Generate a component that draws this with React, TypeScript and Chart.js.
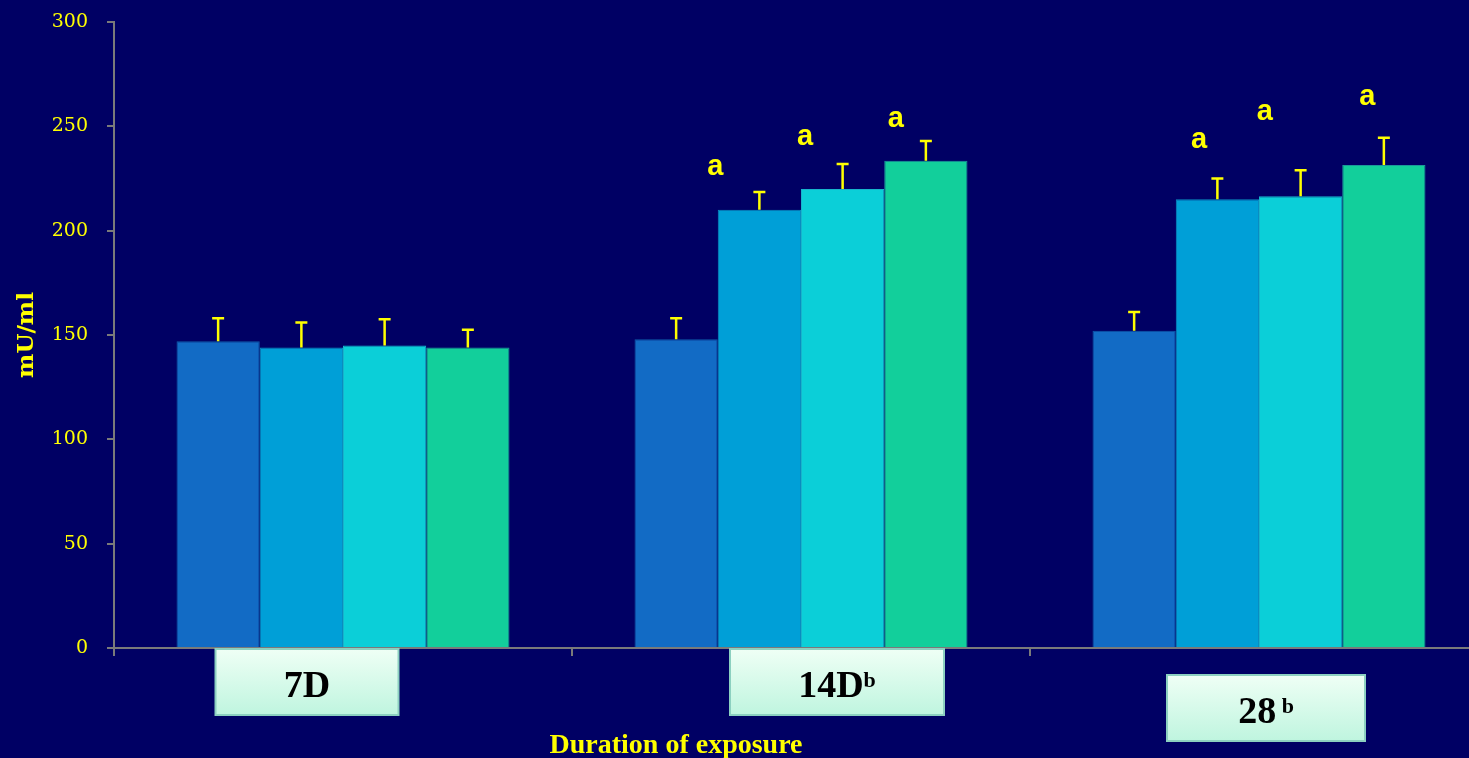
import React, { useEffect, useRef } from "react";
import { Chart, registerables } from "chart.js";

Chart.register(...registerables);

// ---- data ----
const categories = ["7D", "14D", "28"];
const categorySuperscripts = ["", "b", " b"];
const seriesNames = ["Group 1", "Group 2", "Group 3", "Group 4"];
const series1 = [147, 148, 152];
const series2 = [144, 210, 215];
const series3 = [145, 220, 216.5];
const series4 = [144, 233.5, 231.5];
const error1 = [11, 10, 9];
const error2 = [12, 8.5, 10];
const error3 = [12.5, 12, 12.5];
const error4 = [8.5, 9.5, 13];
const sigLabels1 = ["", "", ""];
const sigLabels2 = ["", "a", "a"];
const sigLabels3 = ["", "a", "a"];
const sigLabels4 = ["", "a", "a"];
const sigValues1 = [0, 0, 0];
const sigValues2 = [0, 226.7, 239.6];
const sigValues3 = [0, 241, 253];
const sigValues4 = [0, 249.7, 260.2];
const yTicks = [0, 50, 100, 150, 200, 250, 300];
const xTitle = "Duration of exposure";
const yTitle = "mU/ml";

// ---- styles / layout ----
const BG = "#000064";
const YELLOW = "#ffff00";
const AXIS = "#7a7a7a";
const barColors = ["#126bc5", "#009fd7", "#0bcfd8", "#12cf9b"];
const barBorders = ["#0e5aa8", "#0a8cc0", "#17b4cc", "#1a9b99"];
const sigOffsets = [
  [0, 0, 0],
  [0, -0.53, -0.22],
  [0, -0.45, -0.43],
  [0, -0.36, -0.2],
];
const labelBoxes = [
  { dx: -36, w: 183, top: 1, h: 66 },
  { dx: 36, w: 214, top: 1, h: 66 },
  { dx: 7, w: 198, top: 27, h: 66 },
];

const allSeries = [series1, series2, series3, series4];
const allErrors = [error1, error2, error3, error4];
const allSigLabels = [sigLabels1, sigLabels2, sigLabels3, sigLabels4];
const allSigValues = [sigValues1, sigValues2, sigValues3, sigValues4];

const overlayPlugin = {
  id: "overlay",
  beforeDraw(chart: any) {
    const ctx = chart.ctx;
    ctx.save();
    ctx.fillStyle = BG;
    ctx.fillRect(0, 0, chart.width, chart.height);
    ctx.restore();
  },
  afterDatasetsDraw(chart: any) {
    const ctx = chart.ctx;
    const yScale = chart.scales.y;
    ctx.save();
    // error bars
    allErrors.forEach((errs, di) => {
      const meta = chart.getDatasetMeta(di);
      meta.data.forEach((bar: any, j: number) => {
        const v = allSeries[di][j];
        const top = yScale.getPixelForValue(v + errs[j]);
        ctx.strokeStyle = YELLOW;
        ctx.lineWidth = 2.5;
        ctx.beginPath();
        ctx.moveTo(bar.x, bar.y);
        ctx.lineTo(bar.x, top);
        ctx.moveTo(bar.x - 6, top);
        ctx.lineTo(bar.x + 6, top);
        ctx.stroke();
      });
    });
    // significance letters
    ctx.fillStyle = YELLOW;
    ctx.font = "bold 29px 'Liberation Sans', Arial, sans-serif";
    ctx.textAlign = "center";
    ctx.textBaseline = "alphabetic";
    allSigLabels.forEach((labels, di) => {
      const meta = chart.getDatasetMeta(di);
      labels.forEach((lab, j) => {
        if (!lab) return;
        const bar: any = meta.data[j];
        const w = bar.width;
        ctx.fillText(lab, bar.x + sigOffsets[di][j] * w, yScale.getPixelForValue(allSigValues[di][j]));
      });
    });
    ctx.restore();
  },
  afterDraw(chart: any) {
    const ctx = chart.ctx;
    const xScale = chart.scales.x;
    const area = chart.chartArea;
    ctx.save();
    categories.forEach((cat, i) => {
      const b = labelBoxes[i];
      const cx = xScale.getPixelForValue(i) + b.dx;
      const left = cx - b.w / 2;
      const top = area.bottom + b.top;
      const g = ctx.createLinearGradient(0, top, 0, top + b.h);
      g.addColorStop(0, "#efffF5");
      g.addColorStop(1, "#bff5df");
      ctx.fillStyle = g;
      ctx.fillRect(left, top, b.w, b.h);
      ctx.strokeStyle = "#8cd0c0";
      ctx.lineWidth = 2;
      ctx.strokeRect(left, top, b.w, b.h);
      // text
      const mainFont = "bold 38px 'Liberation Serif', 'Times New Roman', serif";
      const supFont = "bold 22px 'Liberation Serif', 'Times New Roman', serif";
      ctx.font = mainFont;
      const mw = ctx.measureText(cat).width;
      ctx.font = supFont;
      const sw = ctx.measureText(categorySuperscripts[i]).width;
      const start = cx - (mw + sw) / 2;
      const base = top + 48;
      ctx.fillStyle = "#000000";
      ctx.textAlign = "left";
      ctx.textBaseline = "alphabetic";
      ctx.font = mainFont;
      ctx.fillText(cat, start, base);
      ctx.font = supFont;
      ctx.fillText(categorySuperscripts[i], start + mw, base - 10);
    });
    // x axis title
    ctx.fillStyle = YELLOW;
    ctx.font = "bold 28px 'Liberation Serif', 'Times New Roman', serif";
    ctx.textAlign = "center";
    ctx.textBaseline = "alphabetic";
    ctx.fillText(xTitle, area.left + 562, area.bottom + 105);
    ctx.restore();
  },
};

export default function App() {
  const ref = useRef<HTMLCanvasElement>(null);
  useEffect(() => {
    const chart = new Chart(ref.current!, {
      type: "bar",
      data: {
        labels: categories,
        datasets: allSeries.map((s, i) => ({
          label: seriesNames[i],
          data: s,
          backgroundColor: barColors[i],
          borderColor: barBorders[i],
          borderWidth: 1,
          categoryPercentage: 0.727,
          barPercentage: 1.0,
        })),
      },
      options: {
        responsive: false,
        animation: false,
        devicePixelRatio: 1,
        layout: { padding: { top: 22, right: 12, left: 0, bottom: 0 } },
        plugins: {
          legend: { display: false },
          tooltip: { enabled: false },
          title: { display: false },
        },
        scales: {
          x: {
            afterFit: (s: any) => {
              s.height = 110;
            },
            ticks: { display: false },
            grid: {
              offset: true,
              drawOnChartArea: false,
              color: AXIS,
              lineWidth: 2,
              tickLength: 8,
            },
            border: { color: AXIS, width: 2 },
          },
          y: {
            min: 0,
            max: 300,
            afterFit: (s: any) => {
              s.width = 114;
              s.paddingTop = 0;
              s.paddingBottom = 0;
            },
            afterBuildTicks: (s: any) => {
              s.ticks = yTicks.map((v) => ({ value: v }));
            },
            ticks: {
              color: YELLOW,
              font: { family: "'DejaVu Serif', serif", size: 19 },
              padding: 19,
            },
            grid: {
              drawOnChartArea: false,
              color: AXIS,
              lineWidth: 2,
              tickLength: 7,
            },
            border: { color: AXIS, width: 2 },
            title: {
              display: true,
              text: yTitle,
              color: YELLOW,
              font: { family: "'DejaVu Serif', serif", size: 23, weight: "bold" },
              padding: { top: 13, bottom: 0 },
            },
          },
        },
      },
      plugins: [overlayPlugin],
    } as any);
    return () => chart.destroy();
  }, []);
  return (
    <div
      style={{
        position: "fixed",
        left: 0,
        top: 0,
        width: 1469,
        height: 758,
        overflow: "hidden",
        background: BG,
      }}
    >
      <canvas ref={ref} width={1500} height={758} style={{ display: "block", width: 1500, height: 758 }} />
    </div>
  );
}
